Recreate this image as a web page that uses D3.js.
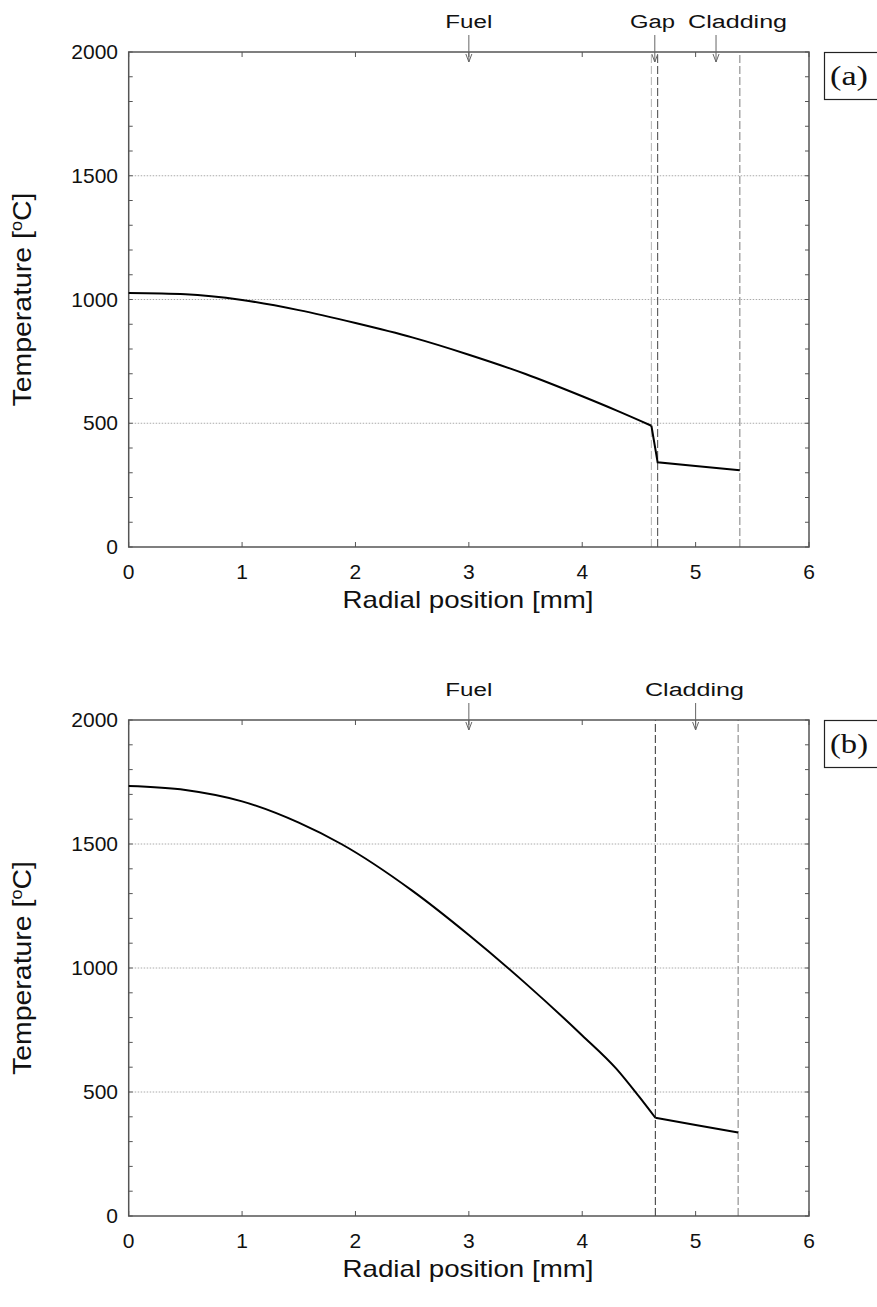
<!DOCTYPE html>
<html>
<head>
<meta charset="utf-8">
<script src="https://cdn.jsdelivr.net/npm/d3@7"></script>
<style>
  body { margin: 0; background: #fff; }
  svg text { font-family: "Liberation Sans", Arial, sans-serif; fill: #111; }
</style>
</head>
<body>
<svg id="chart" width="877" height="1307"></svg>
<script>
// --- data ---
var xTicks = [0, 1, 2, 3, 4, 5, 6];
var yTicks = [0, 500, 1000, 1500, 2000];
var yMinor = d3.range(0, 2001, 100);
var gridLevels = [500, 1000, 1500];

// panel (a): fuel, gap, cladding
var fuelR_a = [0, 0.5, 1.0, 1.5, 2.0, 2.5, 3.0, 3.5, 4.0, 4.3, 4.61];
var fuelT_a = [1026, 1021, 998, 957, 905, 847, 777, 699, 609, 552, 490];
var cladR_a = [4.61, 4.665, 5.0, 5.39];
var cladT_a = [490, 342, 327, 310];
var bounds_a = [4.61, 4.665, 5.39];
var boundColor_a = ["#bbb", "#555", "#888"];
var markerLabels_a = ["Fuel", "Gap", "Cladding"];
var markerPos_a = [3.0, 4.64, 5.18];
var markerTextPos_a = [3.0, 4.62, 5.37];
var markerTextLen_a = [47, 45, 99];

// panel (b): fuel, cladding (no gap)
var fuelR_b = [0, 0.5, 1.0, 1.5, 1.875, 2.5, 3.0, 3.5, 4.0, 4.3, 4.5, 4.645];
var fuelT_b = [1734, 1718, 1672, 1586, 1500, 1312, 1133, 938, 728, 594, 482, 396];
var cladR_b = [4.645, 5.0, 5.375];
var cladT_b = [396, 367, 337];
var bounds_b = [4.645, 5.375];
var boundColor_b = ["#444", "#888"];
var markerLabels_b = ["Fuel", "Cladding"];
var markerPos_b = [3.0, 5.0];
var markerTextPos_b = [3.0, 4.99];
var markerTextLen_b = [47, 99];

var svg = d3.select("#chart");

function drawPanel(top, bottom, p) {
    var x = d3.scaleLinear().domain([0, 6]).range([128.7, 809]);
    var y = d3.scaleLinear().domain([0, 2000]).range([bottom, top]);
    var g = svg.append("g");

    // grid
    g.selectAll(".grid").data(gridLevels).enter().append("line")
        .attr("x1", x(0)).attr("x2", x(6))
        .attr("y1", d => y(d)).attr("y2", d => y(d))
        .attr("stroke", "#aaa").attr("stroke-width", 1)
        .attr("stroke-dasharray", "1.5,1.5");

    // region boundaries
    p.bounds.forEach(function(b, i) {
        g.append("line")
            .attr("x1", x(b)).attr("x2", x(b))
            .attr("y1", y(0)).attr("y2", y(2000))
            .attr("stroke", p.boundColor[i]).attr("stroke-width", 1.1)
            .attr("stroke-dasharray", "8,3");
    });

    // frame
    g.append("rect")
        .attr("x", x(0)).attr("y", y(2000))
        .attr("width", x(6) - x(0)).attr("height", y(0) - y(2000))
        .attr("fill", "none").attr("stroke", "#555").attr("stroke-width", 1.5);

    // ticks (inward)
    var tk = g.append("g").attr("stroke", "#555").attr("stroke-width", 1);
    xTicks.forEach(function(t) {
        tk.append("line").attr("x1", x(t)).attr("x2", x(t)).attr("y1", y(0)).attr("y2", y(0) - 5);
        tk.append("line").attr("x1", x(t)).attr("x2", x(t)).attr("y1", y(2000)).attr("y2", y(2000) + 5);
    });
    yMinor.forEach(function(t) {
        tk.append("line").attr("x1", x(0)).attr("x2", x(0) + 4).attr("y1", y(t)).attr("y2", y(t));
        tk.append("line").attr("x1", x(6)).attr("x2", x(6) - 4).attr("y1", y(t)).attr("y2", y(t));
    });

    // tick labels
    g.selectAll(".xl").data(xTicks).enter().append("text")
        .attr("x", d => x(d)).attr("y", y(0) + 32)
        .attr("text-anchor", "middle").attr("font-size", 21)
        .text(d => d);
    g.selectAll(".yl").data(yTicks).enter().append("text")
        .attr("x", 118).attr("y", d => y(d) + 7)
        .attr("text-anchor", "end").attr("font-size", 21)
        .text(d => d);

    // axis titles
    g.append("text")
        .attr("x", 468).attr("y", y(0) + 61)
        .attr("text-anchor", "middle").attr("font-size", 24)
        .attr("textLength", 251).attr("lengthAdjust", "spacingAndGlyphs")
        .text("Radial position [mm]");
    var yt = g.append("text")
        .attr("transform", "translate(31," + ((top + bottom) / 2) + ") rotate(-90)")
        .attr("text-anchor", "middle").attr("font-size", 25)
        .attr("textLength", 214).attr("lengthAdjust", "spacingAndGlyphs");
    yt.append("tspan").text("Temperature [");
    yt.append("tspan").attr("font-size", 16).attr("dy", -9).text("o");
    yt.append("tspan").attr("dy", 9).text("C]");

    // temperature profile
    var line = d3.line().x(d => x(d[0])).y(d => y(d[1]));
    g.append("path")
        .datum(p.fuelR.map((r, i) => [r, p.fuelT[i]]))
        .attr("d", line.curve(d3.curveMonotoneX))
        .attr("fill", "none").attr("stroke", "#000").attr("stroke-width", 2);
    g.append("path")
        .datum(p.cladR.map((r, i) => [r, p.cladT[i]]))
        .attr("d", line.curve(d3.curveLinear))
        .attr("fill", "none").attr("stroke", "#000").attr("stroke-width", 2);

    // region markers above the plot
    p.markerPos.forEach(function(m, i) {
        var mx = x(m), ty = y(2000);
        g.append("text")
            .attr("x", x(p.markerTextPos[i]) - p.markerTextLen[i] / 2).attr("y", ty - 24)
            .attr("font-size", 18)
            .attr("textLength", p.markerTextLen[i]).attr("lengthAdjust", "spacingAndGlyphs")
            .text(p.markerLabels[i]);
        g.append("line")
            .attr("x1", mx).attr("x2", mx).attr("y1", ty - 17).attr("y2", ty + 10)
            .attr("stroke", "#666").attr("stroke-width", 1);
        g.append("path")
            .attr("d", "M" + (mx - 3) + "," + (ty + 2) + "L" + mx + "," + (ty + 10) + "L" + (mx + 3) + "," + (ty + 2))
            .attr("fill", "none").attr("stroke", "#666").attr("stroke-width", 1);
    });

    // panel label box
    g.append("rect")
        .attr("x", 824.5).attr("y", top + 0.5)
        .attr("width", 60).attr("height", 47)
        .attr("fill", "#fff").attr("stroke", "#222").attr("stroke-width", 1.2);
    g.append("text")
        .attr("x", 830).attr("y", top + 33)
        .attr("font-size", 28)
        .attr("textLength", 38).attr("lengthAdjust", "spacingAndGlyphs")
        .style("font-family", "'Liberation Serif', 'Times New Roman', serif")
        .text(p.tag);
}

drawPanel(52, 547, {
    fuelR: fuelR_a, fuelT: fuelT_a, cladR: cladR_a, cladT: cladT_a,
    bounds: bounds_a, boundColor: boundColor_a,
    markerLabels: markerLabels_a, markerPos: markerPos_a,
    markerTextPos: markerTextPos_a, markerTextLen: markerTextLen_a, tag: "(a)"
});
drawPanel(720, 1216, {
    fuelR: fuelR_b, fuelT: fuelT_b, cladR: cladR_b, cladT: cladT_b,
    bounds: bounds_b, boundColor: boundColor_b,
    markerLabels: markerLabels_b, markerPos: markerPos_b,
    markerTextPos: markerTextPos_b, markerTextLen: markerTextLen_b, tag: "(b)"
});
</script>
</body>
</html>
